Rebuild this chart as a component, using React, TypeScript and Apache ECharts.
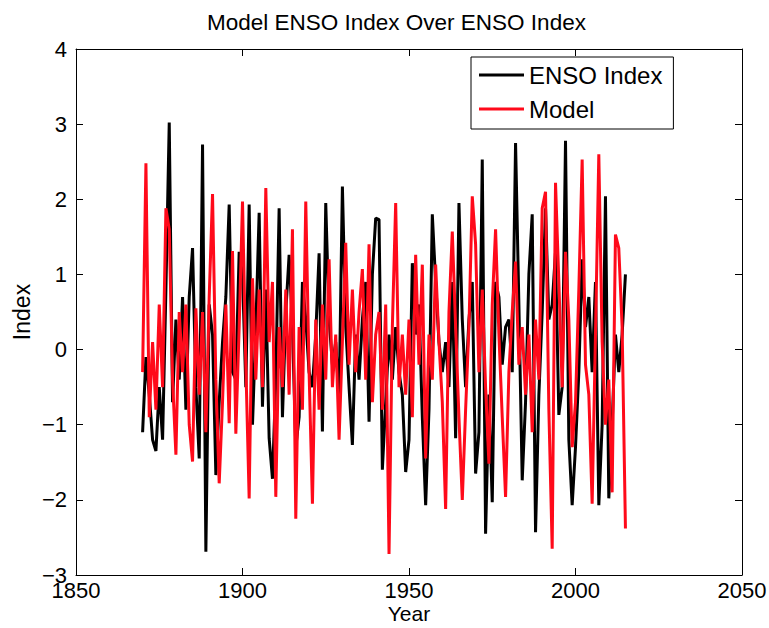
import React, { useEffect, useRef } from "react";
import * as echarts from "echarts";

const FIRST_YEAR = 1870;
const LAST_YEAR = 2015;
const years: number[] = [];
for (let y = FIRST_YEAR; y <= LAST_YEAR; y++) years.push(y);

// ENSO Index (black), one value per year 1870..2015
const ensoIndex: number[] = [
  -1.1, -0.1, -0.6, -1.2, -1.35, -0.5, -1.2, 0.8, 3.02, -0.7,
  0.4, -0.4, 0.7, -0.8, 0.7, 1.35, -0.5, -1.45, 2.73, -2.69,
  0.6, 0.2, -1.67, -0.7, 0.1, 0.7, 1.93, -0.3, -0.4, 1.3,
  1.0, -0.5, 1.93, -1.0, 0.3, 1.82, -0.76, 0.8, -1.18, -1.72,
  -0.4, 1.88, -0.9, 0.5, 1.26, 0.3, -1.3, -0.9, 0.9, 0.4,
  -0.3, -0.5, 0.2, 1.28, -1.09, 1.95, 0.4, -0.2, 0.1, -0.7,
  2.17, 0.3, -0.5, -1.27, 0.2, -0.4, 0.4, 0.9, -0.96, 1.0,
  1.75, 1.73, -1.6, -0.7, 0.2, -0.4, 0.3, -0.3, -0.6, -1.63,
  -1.2, 1.15, 0.2, 0.6, -0.9, -2.07, -0.8, 1.8, 0.9, 0.1,
  -0.3, 0.1, -0.5, 0.9, -1.18, 1.95, 0.4, -0.5, 0.4, 0.9,
  -1.65, -1.1, 2.53, -2.45, -0.6, -2.03, 0.9, 0.7, -0.2, 0.3,
  0.4, -0.3, 2.75, 0.6, -1.74, -0.7, 1.0, 1.8, -2.43, -0.6,
  0.5, 1.88, 0.4, 0.6, 1.3, -0.87, -0.5, 2.78, -1.2, -2.07,
  -1.3, -0.3, 1.2, 0.3, 0.7, -0.3, 0.9, -2.07, -1.0, 2.04,
  -1.98, -1.0, 0.2, -0.3, 0.2, 1.0,
];

// Model (red), one value per year 1870..2015
const modelIndex: number[] = [
  -0.3, 2.48, -0.9, 0.1, -0.8, 0.6, -0.5, 1.88, 1.6, -0.4,
  -1.4, 0.5, -0.3, 0.6, -1.0, -1.49, 0.55, -0.6, 0.5, -1.1,
  0.7, 2.07, -0.4, -1.78, -0.7, 0.6, -0.98, 1.31, -1.12, 0.3,
  1.97, -0.2, -1.98, 0.95, -0.4, 0.8, -0.5, 2.15, 0.1, 0.9,
  -1.96, 0.3, -0.5, 0.8, -0.6, 1.6, -2.25, 0.3, -0.8, 1.97,
  -0.3, -2.05, 0.4, -0.8, 0.6, -0.4, 1.2, -0.5, 0.2, -1.2,
  0.1, 1.42, -0.2, 0.8, -0.3, 0.5, 1.07, -0.4, 1.4, -0.7,
  0.2, 0.5, -0.8, 0.6, -2.72, 0.3, 1.95, -0.5, 0.2, -0.6,
  0.4, -0.9, 1.26, -0.2, 1.13, -1.45, 0.2, -0.4, 1.13, 0.1,
  -0.7, -2.12, 0.5, 1.57, 0.3, -0.9, -2.0, -0.8, 0.3, 2.04,
  1.4, -0.3, 0.8, -0.5, -1.52, 0.6, 1.6, 0.2, -0.9, -1.96,
  -0.3, 0.5, 1.17, -0.2, 0.3, -0.6, 0.2, -1.1, 0.4, -0.4,
  1.88, 2.1, -0.8, -2.65, 2.22, 0.9, -0.5, 1.3, 0.4, -1.3,
  -0.7, 0.8, 2.53, -0.2, -0.6, -2.05, 0.2, 2.6, 0.1, -1.0,
  -0.4, -1.9, 1.53, 1.35, 0.3, -2.38,
];

const X_TICKS = { min: 1850, max: 2050, interval: 50 };
const Y_TICKS = { min: -3, max: 4, interval: 1 };

const FONT = "Liberation Sans, Arial, Helvetica, sans-serif";

export default function App() {
  const ref = useRef<HTMLDivElement>(null);
  useEffect(() => {
    document.body.style.margin = "0";
    if (!ref.current) return;
    const chart = echarts.init(ref.current, undefined, { renderer: "svg" });
    const black = years.map((y, i) => [y, ensoIndex[i]]);
    const red = years.map((y, i) => [y, modelIndex[i]]);
    const axisLine = { show: true, onZero: false, lineStyle: { color: "#000", width: 1 } };
    const tick = { show: true, inside: true, length: 7, lineStyle: { color: "#000" } };
    const minus = (v: number) => (v < 0 ? "\u2212" + Math.abs(v) : String(v));
    chart.setOption({
      animation: false,
      backgroundColor: "#fff",
      textStyle: { fontFamily: FONT },
      title: {
        text: "Model ENSO Index Over ENSO Index",
        left: 202,
        top: 6,
        textStyle: { fontSize: 22.5, fontWeight: "normal", color: "#000", fontFamily: FONT },
      },
      grid: { left: 76, right: 27, top: 49, bottom: 53, containLabel: false, outerBoundsMode: "none" },
      legend: {
        orient: "vertical",
        left: 471,
        top: 57,
        padding: [6, 11, 8, 8],
        itemGap: 10,
        itemWidth: 45,
        itemHeight: 3,
        icon: "rect",
        borderColor: "#000",
        borderWidth: 1,
        borderRadius: 0,
        backgroundColor: "#fff",
        textStyle: { fontSize: 24, lineHeight: 24, color: "#000", fontFamily: FONT },
        data: ["ENSO Index", "Model"],
      },
      xAxis: [
        {
          type: "value",
          position: "bottom",
          ...X_TICKS,
          axisLine,
          axisTick: tick,
          splitLine: { show: false },
          axisLabel: { fontSize: 22, lineHeight: 22, color: "#000", margin: 4, fontFamily: FONT, formatter: (v: number) => String(v) },
          name: "Year",
          nameLocation: "middle",
          nameGap: 28,
          nameMoveOverlap: false,
          nameTextStyle: { fontSize: 21, lineHeight: 21, color: "#000", fontFamily: FONT },
        },
        {
          type: "value",
          position: "top",
          ...X_TICKS,
          axisLine,
          axisTick: tick,
          splitLine: { show: false },
          axisLabel: { show: false },
        },
      ],
      yAxis: [
        {
          type: "value",
          position: "left",
          ...Y_TICKS,
          axisLine,
          axisTick: tick,
          splitLine: { show: false },
          axisLabel: { fontSize: 22, lineHeight: 22, color: "#000", margin: 9, formatter: minus, fontFamily: FONT },
          name: "Index",
          nameLocation: "middle",
          nameGap: 43,
          nameMoveOverlap: false,
          nameTextStyle: { fontSize: 23, color: "#000", fontFamily: FONT },
        },
        {
          type: "value",
          position: "right",
          ...Y_TICKS,
          axisLine,
          axisTick: tick,
          splitLine: { show: false },
          axisLabel: { show: false },
        },
      ],
      series: [
        {
          name: "ENSO Index",
          type: "line",
          data: black,
          symbol: "none",
          lineStyle: { color: "#000", width: 3 },
          itemStyle: { color: "#000" },
        },
        {
          name: "Model",
          type: "line",
          data: red,
          symbol: "none",
          lineStyle: { color: "#ff0a1a", width: 3 },
          itemStyle: { color: "#ff0a1a" },
        },
      ],
    });
    return () => chart.dispose();
  }, []);
  return <div ref={ref} style={{ width: 769, height: 628 }} />;
}
